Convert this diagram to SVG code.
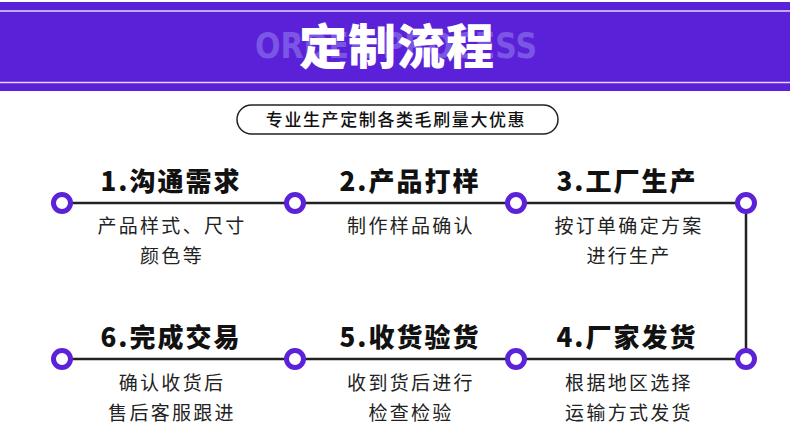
<svg xmlns="http://www.w3.org/2000/svg" width="790" height="441" viewBox="0 0 790 441">
<style>
.ttl{font-family:"Noto Sans CJK SC","Noto Sans",sans-serif;font-weight:900;font-size:26px;fill:#111;text-anchor:middle;letter-spacing:2px}
.dsc{font-family:"Noto Sans CJK SC","Noto Sans",sans-serif;font-weight:400;font-size:19px;fill:#222;text-anchor:middle;letter-spacing:2.3px}
.dot{fill:#fff;stroke:#5b22d8;stroke-width:5}
.ln{stroke:#222;stroke-width:2.5;fill:none}
</style>
<rect width="790" height="441" fill="#fff"/>
<g id="header">
<rect x="0" y="2" width="790" height="89" fill="#5b21d9"/>
<line x1="0" y1="11" x2="790" y2="11" stroke="#e3d6fa" stroke-width="1.5"/>
<line x1="0" y1="82.5" x2="790" y2="82.5" stroke="#e3d6fa" stroke-width="1.5"/>
<text x="396" y="58" font-family="'DejaVu Sans Condensed','Liberation Sans',sans-serif" font-weight="bold" font-size="35" fill="#7b55e4" text-anchor="middle" textLength="282" lengthAdjust="spacingAndGlyphs">ORDER PROCESS</text>
<text x="397" y="64" font-family="'Noto Sans CJK SC',sans-serif" font-weight="900" font-size="48" fill="#fff" text-anchor="middle" letter-spacing="1">定制流程</text>
</g>
<g id="subtitle">
<rect x="237" y="105" width="321" height="29" rx="14.5" fill="#fff" stroke="#222" stroke-width="1.5"/>
<text x="396" y="126" font-family="'Noto Sans CJK SC',sans-serif" font-weight="500" font-size="17" fill="#111" text-anchor="middle" letter-spacing="1.6">专业生产定制各类毛刷量大优惠</text>
</g>
<g id="connectors">
<path class="ln" d="M62 203 H746 V359 H62"/>
</g>
<g id="step1">
<circle class="dot" cx="62" cy="203" r="8.5"/>
<text class="ttl" x="171" y="191">1.沟通需求</text>
<text class="dsc" x="172" y="233">产品样式、尺寸</text>
<text class="dsc" x="172" y="263">颜色等</text>
</g>
<g id="step2">
<circle class="dot" cx="295" cy="203" r="8.5"/>
<text class="ttl" x="410" y="191">2.产品打样</text>
<text class="dsc" x="411" y="233">制作样品确认</text>
</g>
<g id="step3">
<circle class="dot" cx="516" cy="203" r="8.5"/>
<text class="ttl" x="627" y="191">3.工厂生产</text>
<text class="dsc" x="629" y="233">按订单确定方案</text>
<text class="dsc" x="629" y="263">进行生产</text>
</g>
<g id="step4">
<circle class="dot" cx="746" cy="203" r="8.5"/>
<circle class="dot" cx="746" cy="359" r="8.5"/>
<text class="ttl" x="627" y="347">4.厂家发货</text>
<text class="dsc" x="629" y="390">根据地区选择</text>
<text class="dsc" x="629" y="420">运输方式发货</text>
</g>
<g id="step5">
<circle class="dot" cx="516" cy="359" r="8.5"/>
<text class="ttl" x="410" y="347">5.收货验货</text>
<text class="dsc" x="411" y="390">收到货后进行</text>
<text class="dsc" x="411" y="420">检查检验</text>
</g>
<g id="step6">
<circle class="dot" cx="295" cy="359" r="8.5"/>
<circle class="dot" cx="62" cy="359" r="8.5"/>
<text class="ttl" x="171" y="347">6.完成交易</text>
<text class="dsc" x="172" y="390">确认收货后</text>
<text class="dsc" x="172" y="420">售后客服跟进</text>
</g>
</svg>
